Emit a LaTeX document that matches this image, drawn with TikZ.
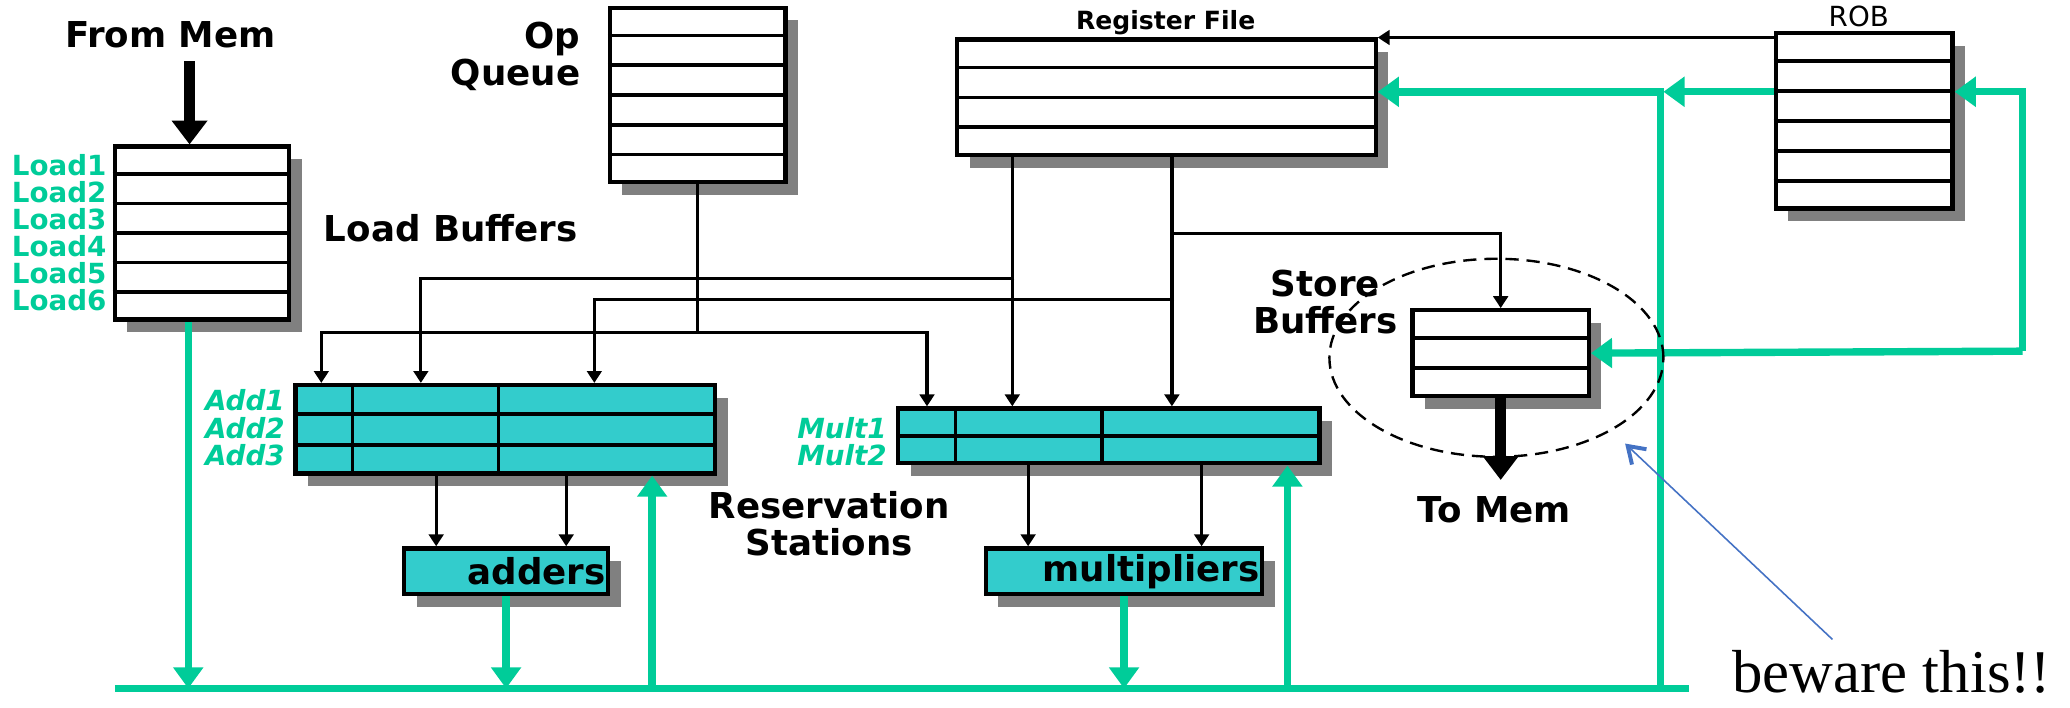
\documentclass[tikz,border=0pt]{standalone}
\usepackage{fontspec}
\setmainfont{DejaVu Sans}
\newfontfamily\notefont{Liberation Serif}
\usepackage{tikz}
\usetikzlibrary{arrows.meta, calc, shapes.geometric, shadows}

\definecolor{cdbgreen}{RGB}{0,204,153}
\definecolor{rsteal}{RGB}{51,204,204}
\definecolor{shadegray}{RGB}{128,128,128}
\definecolor{noteblue}{RGB}{68,114,196}

\begin{document}
\begin{tikzpicture}[
        x=0.5pt, y=-0.5pt,
        boxshadow/.style={drop shadow={shadow xshift=4.75pt, shadow yshift=-4.75pt, fill=shadegray, opacity=1}},
        buffer/.style={rectangle, draw=black, line width=1.6pt, fill=white, inner sep=0pt, boxshadow},
        station/.style={buffer, fill=rsteal},
        fu/.style={buffer, fill=rsteal, align=right, inner sep=1pt, font=\fontsize{13.5}{14}\selectfont\bfseries},
        rowline/.style={line width=1.4pt},
        txt/.style={font=\fontsize{13.5}{14}\selectfont\bfseries, align=center, inner sep=0pt},
        tag/.style={font=\fontsize{10.5}{11}\selectfont\bfseries, text=cdbgreen, anchor=east, inner sep=0pt},
        rstag/.style={tag, font=\fontsize{10.5}{11}\selectfont\bfseries\itshape},
        ring/.style={ellipse, draw=black, line width=0.9pt, dash pattern=on 5pt off 3pt, minimum width=126.5pt, minimum height=75pt, inner sep=0pt},
        wire/.style={line width=1.2pt, >={Triangle[width=5.5pt, length=4.5pt]}},
        bus/.style={draw=cdbgreen, line width=2.8pt, >={Triangle[width=11pt, length=8pt]}},
        memarrow/.style={line width=4pt, -{Triangle[width=13pt, length=9pt]}},
        warnline/.style={draw=noteblue, line width=0.6pt, -{Straight Barb[length=6pt, width=8pt, line width=1.5pt]}}
    ]
    \useasboundingbox (0,0) rectangle (1568,536);

    % --- NODES ---
    \node[buffer, minimum width=66pt, minimum height=65.5pt] (load) at (153,176.5) {};
    \node[buffer, minimum width=66.5pt, minimum height=66pt] (opq) at (528.5,72) {};
    \node[buffer, minimum width=158.5pt, minimum height=43.75pt] (regf) at (883.5,73.75) {};
    \node[buffer, minimum width=67pt, minimum height=66.5pt] (rob) at (1412,91.5) {};
    \node[buffer, minimum width=66.75pt, minimum height=32.5pt] (store) at (1136.75,267.5) {};

    % reservation stations and units
    \node[station, minimum width=159pt, minimum height=33.5pt] (addrs) at (382.8,325.15) {};
    \node[station, minimum width=159.5pt, minimum height=20.8pt] (multrs) at (840,330.2) {};
    \node[fu, text width=75.35pt, minimum height=17.3pt] (adders) at (383.35,432.7) {adders};
    \node[fu, text width=102.75pt, minimum height=17.3pt] (mults) at (851.45,432.7) {multipliers};

    % rows and columns
    \foreach \bx/\n in {load/6, opq/6, regf/4, rob/6, store/3, addrs/3, multrs/2}{
        \pgfmathtruncatemacro{\last}{\n-1}
        \foreach \i in {1,...,\last}
            \draw[rowline] ($(\bx.north west)!\i/\n!(\bx.south west)$) -- ($(\bx.north east)!\i/\n!(\bx.south east)$);
    }
    \foreach \bx in {addrs, multrs}
        \foreach \f in {0.1396, 0.4836}
            \draw[rowline] ($(\bx.north west)!\f!(\bx.north east)$) -- ($(\bx.south west)!\f!(\bx.south east)$);

    % entry tags
    \foreach \i in {1,...,6}
        \node[tag] (ld\i) at (81,{125+20.4*(\i-1)}) {Load\i};
    \foreach \i/\y in {1/303, 2/324.5, 3/344.7}
        \node[rstag] (add\i) at (216,\y) {Add\i};
    \foreach \i/\y in {1/324.5, 2/344.7}
        \node[rstag] (mult\i) at (672,\y) {Mult\i};

    % captions
    \node[txt, inner sep=5pt] (frommem) at (129,26) {From Mem};
    \node[txt, align=right, anchor=east] (opqlbl) at (440,43) {Op\\Queue};
    \node[txt, anchor=west] (loadlbl) at (245,173) {Load Buffers};
    \node[txt, font=\fontsize{9.5}{10}\selectfont\bfseries] (regflbl) at (883,17) {Register File};
    \node[txt, font=\fontsize{10.5}{11}\selectfont] (roblbl) at (1408,12.5) {ROB};
    \node[txt] (storelbl) at (1004,229) {Store\\Buffers};
    \node[txt] (rslbl) at (628,397) {Reservation\\Stations};
    \node[txt, inner sep=6pt] (tomem) at (1132,386) {To Mem};
    \node[font=\notefont\fontsize{23}{25}\selectfont, inner sep=0pt] (beware) at (1433,509) {beware this!!};

    % --- ARROWS ---
    \coordinate (opjoin) at (528.5,252);
    \coordinate (j1) at (768.4,211);
    \coordinate (j2) at (889.3,227);
    \coordinate (j3) at (889.3,177);
    \coordinate (rf1) at ([xshift=21.7pt]regf.south west);
    \coordinate (rf2) at ([xshift=82.15pt]regf.south west);

    % operands to the stations
    \draw[wire] (opq.south) -- (opjoin);
    \draw[wire,->] (opjoin) -| ([xshift=10.6pt]addrs.north west);
    \draw[wire,->] (opjoin) -| ([xshift=11.65pt]multrs.north west);
    \draw[wire,->] (rf1) -- (rf1 |- multrs.north);
    \draw[wire,->] (rf2) -- (rf2 |- multrs.north);
    \draw[wire,->] (j1) -| ([xshift=48.3pt]addrs.north west);
    \draw[wire,->] (j2) -| ([xshift=114pt]addrs.north west);
    \draw[wire,->] (j3) -| (store.north);
    \draw[wire,->] ([yshift=-2.5pt]rob.north west) -- (regf.north east);

    % stations to units
    \coordinate (a1) at ([xshift=13pt]adders.north west);
    \coordinate (a2) at ([xshift=62.25pt]adders.north west);
    \coordinate (m1) at ([xshift=16.85pt]mults.north west);
    \coordinate (m2) at ([xshift=82.55pt]mults.north west);
    \foreach \c in {a1, a2}
        \draw[wire,->] (\c |- addrs.south) -- (\c);
    \foreach \c in {m1, m2}
        \draw[wire,->] (\c |- multrs.south) -- (\c);

    % memory
    \coordinate (ldin) at ([xshift=-4.7pt]load.north);
    \draw[memarrow] (frommem.south -| ldin) -- (ldin);
    \draw[memarrow] (store.south) -- (store.south |- tomem.north);

    % common data bus
    \coordinate (busl) at (87,521.5);
    \coordinate (busr) at (1279.5,521.5);
    \coordinate (cdbbot) at (1258,521.5);
    \coordinate (cdbtop) at (1260,69.5);
    \coordinate (robloop) at (1532,266);
    \coordinate (ldout) at ([xshift=-5.2pt]load.south);
    \coordinate (addin) at ([xshift=-24.7pt]addrs.south east);
    \coordinate (multin) at ([xshift=-12.95pt]multrs.south east);

    \draw[bus] (busl) -- (busr);
    \draw[bus,->] (ldout) -- (ldout |- busl);
    \draw[bus,->] (adders.south) -- (adders.south |- busl);
    \draw[bus,->] (addin |- busl) -- (addin);
    \draw[bus,->] (mults.south) -- (mults.south |- busl);
    \draw[bus,->] (multin |- busl) -- (multin);
    \draw[bus,->] (cdbbot) |- ([yshift=2.1pt]regf.east);
    \draw[bus,->] (rob.west |- cdbtop) -- (cdbtop);
    \draw[bus,->] (robloop) |- (rob.east |- cdbtop);
    \draw[bus,->] (robloop) -- (store.east);

    % hazard note
    \node[ring] (hazard) at (1133.5,271) {};
    \coordinate (hazpt) at (1231,336);
    \draw[warnline] ([xshift=-22.5pt, yshift=4pt]beware.north) -- (hazpt);

\end{tikzpicture}
\end{document}
